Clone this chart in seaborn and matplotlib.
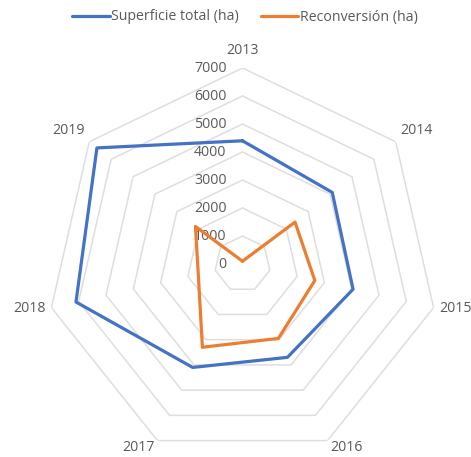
import numpy as np
import pandas as pd
import matplotlib
matplotlib.use("Agg")
import matplotlib.pyplot as plt
import matplotlib.transforms as mtransforms
import seaborn as sns

years = ["2013", "2014", "2015", "2016", "2017", "2018", "2019"]
superficie_total = [4400, 4100, 4050, 3700, 4100, 6100, 6650]
reconversion = [100, 2400, 2650, 2950, 3300, 1620, 2150]
series_names = ["Superficie total (ha)", "Reconversión (ha)"]
radial_ticks = [0, 1000, 2000, 3000, 4000, 5000, 6000, 7000]

sns.set_theme(style="white")
plt.rcParams["font.family"] = ["Open Sans", "DejaVu Sans"]

n = len(years)
angles = np.linspace(0, 2 * np.pi, n, endpoint=False)
closed = np.append(angles, angles[0] + 2 * np.pi)

rows = []
for name, vals in zip(series_names, [superficie_total, reconversion]):
    vv = list(vals) + [vals[0]]
    for i, (t, v) in enumerate(zip(closed, vv)):
        rows.append({"theta": t, "value": v, "serie": name, "order": i})
df = pd.DataFrame(rows)

W, H = 471, 457
fig = plt.figure(figsize=(W / 100, H / 100), dpi=100)
R = 196
cx, cy = 242.5, 264
ax = fig.add_axes([(cx - R) / W, (H - cy - R) / H, 2 * R / W, 2 * R / H],
                  projection="polar")
ax.set_theta_zero_location("N")
ax.set_theta_direction(-1)
ax.grid(False)
ax.spines["polar"].set_visible(False)
ax.set_facecolor("none")

# polygonal rings
for v in radial_ticks[1:]:
    ax.plot(closed, [v] * len(closed), color="#dedede", lw=1.1, zorder=1)

palette = {series_names[0]: "#4472C4", series_names[1]: "#ED7D31"}
sns.lineplot(data=df, x="theta", y="value", hue="serie", palette=palette,
             sort=False, estimator=None, units="serie", lw=2.3, ax=ax, zorder=3,
             legend=True)

fs = 10.2
tc = "#595959"
ax.set_ylim(0, 7000)
ax.set_yticks([])
ax.set_xticks(angles)
ax.set_xticklabels([])
ax.set_xlabel("")
ax.set_ylabel("")

# category labels placed outside the outer ring vertices
rmax = radial_ticks[-1]
for a, lab in zip(angles, years):
    s, c = np.sin(a), np.cos(a)
    ha = "left" if s > 0.1 else ("right" if s < -0.1 else "center")
    va = "bottom" if c > 0.5 else ("top" if c < -0.5 else "center")
    dx = s * 6
    dy = c * 6 + 3.5 * c ** 8 + (4 if c < -0.5 else 0)
    tr = mtransforms.offset_copy(ax.transData, fig=fig, x=dx, y=dy, units="dots")
    ax.text(a, rmax, lab, transform=tr, ha=ha, va=va, fontsize=fs, color=tc)

off = mtransforms.offset_copy(ax.transData, fig=fig, x=-16, y=0, units="dots")
for v in radial_ticks:
    ax.text(0, v, f"{v}", transform=off, ha="right", va="center",
            fontsize=fs, color=tc, zorder=2)

handles, labels = ax.get_legend_handles_labels()
if ax.legend_:
    ax.legend_.remove()
fig.legend(handles, labels, loc="center", bbox_to_anchor=(245 / W, 1 - 17 / H),
           ncol=2, frameon=False, fontsize=fs, handlelength=2.65,
           handletextpad=0.1, columnspacing=1.55, labelcolor=tc)

fig.savefig("out.png", dpi=100, facecolor="white")
